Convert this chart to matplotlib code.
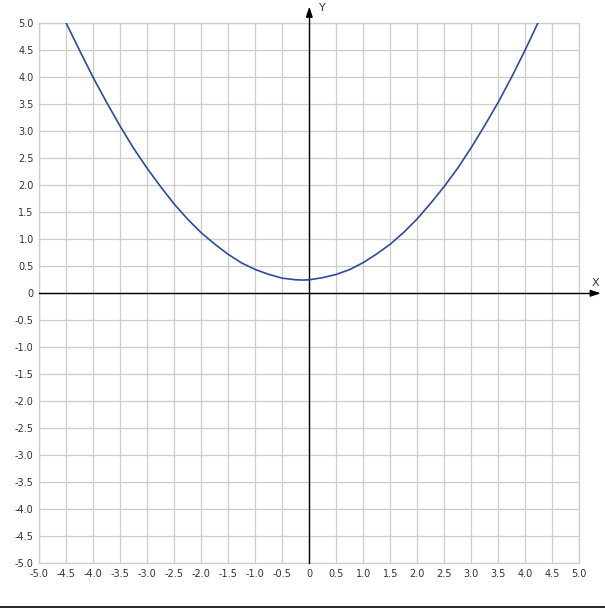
import matplotlib
matplotlib.use('Agg')
import matplotlib.pyplot as plt
from matplotlib.lines import Line2D

# curve points
x_vals = [-4.5, -4.25, -4.0, -3.75, -3.5, -3.25, -3.0, -2.75, -2.5, -2.25,
          -2.0, -1.75, -1.5, -1.25, -1.0, -0.75, -0.5, -0.25, -0.125, 0.0,
          0.25, 0.5, 0.75, 1.0, 1.25, 1.5, 1.75, 2.0, 2.25, 2.5,
          2.75, 3.0, 3.25, 3.5, 3.75, 4.0, 4.23]
y_vals = [5.0, 4.49, 3.99, 3.53, 3.09, 2.68, 2.31, 1.97, 1.65, 1.37,
          1.12, 0.91, 0.72, 0.56, 0.44, 0.35, 0.28, 0.25, 0.245, 0.25,
          0.29, 0.35, 0.44, 0.57, 0.73, 0.91, 1.13, 1.38, 1.67, 1.98,
          2.32, 2.70, 3.11, 3.54, 4.01, 4.51, 5.0]

ticks = [-5.0, -4.5, -4.0, -3.5, -3.0, -2.5, -2.0, -1.5, -1.0, -0.5,
         0.0, 0.5, 1.0, 1.5, 2.0, 2.5, 3.0, 3.5, 4.0, 4.5, 5.0]
tick_labels = ['0' if t == 0 else f'{t:.1f}' for t in ticks]

fig = plt.figure(figsize=(6.05, 6.08), dpi=100)
ax = fig.add_axes([39.3 / 605, (608 - 563.3) / 608, 540 / 605, 540 / 608])

ax.set_xlim(-5, 5)
ax.set_ylim(-5, 5)
ax.set_xticks(ticks)
ax.set_yticks(ticks)
ax.set_xticklabels(tick_labels)
ax.set_yticklabels(tick_labels)
ax.tick_params(length=0, labelsize=7, colors='#333333', pad=4)
ax.grid(True, color='#cccccc', linewidth=0.9)
for s in ax.spines.values():
    s.set_color('#cccccc')
    s.set_linewidth(0.9)

# axes through the origin with arrows
ax.plot([-5, 5.3], [0, 0], color='black', linewidth=1.0, clip_on=False, zorder=3)
ax.plot([0, 0], [-5, 5.25], color='black', linewidth=1.0, clip_on=False, zorder=3)
ax.annotate('', xy=(5.45, 0), xytext=(5.2, 0), annotation_clip=False,
            arrowprops=dict(arrowstyle='-|>,head_length=0.6,head_width=0.2',
                            color='black', lw=1.0))
ax.annotate('', xy=(0, 5.36), xytext=(0, 5.1), annotation_clip=False,
            arrowprops=dict(arrowstyle='-|>,head_length=0.6,head_width=0.2',
                            color='black', lw=1.0))
ax.text(5.3, 0.1, 'X', fontsize=8, color='#333333', ha='center', va='bottom')
ax.text(0.25, 5.29, 'Y', fontsize=8, color='#333333', ha='center', va='center')

ax.plot(x_vals, y_vals, color='#2b4c9b', linewidth=1.2, zorder=4)

# line along the bottom of the image
fig.add_artist(Line2D([0, 1], [1.5 / 608, 1.5 / 608], color='black', linewidth=1.2))

fig.savefig('out.png', dpi=100)
